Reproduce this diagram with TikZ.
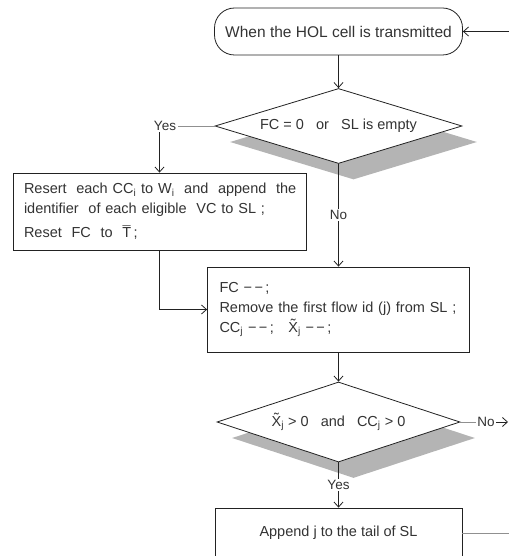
\documentclass[tikz,border=0pt]{standalone}
\usepackage{fontspec}
\setmainfont{Liberation Sans}
\usetikzlibrary{shapes.geometric,shadows,arrows.meta}
\definecolor{textc}{HTML}{333333}
\definecolor{linec}{HTML}{222222}
\definecolor{graylc}{HTML}{909090}
\definecolor{shadowc}{HTML}{B4B4B4}
\newcommand{\sbs}[1]{\textsubscript{#1}}
\newcommand{\markover}[3]{\leavevmode\setbox0\hbox{#2}\rlap{\copy0}\makebox[\wd0]{\raisebox{#3}{#1}}}
\begin{document}
\begin{tikzpicture}[x=1pt,y=-1pt,
  font=\fontsize{14.5}{20}\selectfont, text=textc,
  term/.style={draw=linec, line width=0.8pt, rounded corners=20pt, minimum width=248pt, minimum height=47pt, inner sep=0pt, font=\fontsize{15.5}{18}\selectfont},
  dec/.style={diamond, aspect=3.2, draw=linec, line width=0.8pt, fill=white, inner sep=0pt,
    drop shadow={shadow xshift=15pt, shadow yshift=-16pt, fill=shadowc, opacity=1}},
  stepbox/.style={draw=linec, line width=0.8pt, fill=white, inner sep=0pt},
  lbl/.style={fill=white, inner sep=1.5pt, font=\fontsize{13.5}{15}\selectfont},
  arr/.style={draw=linec, line width=0.8pt, -{Straight Barb[length=5pt,width=9pt]}},
  conn/.style={draw=graylc, line width=0.9pt}]
\useasboundingbox (0,0) rectangle (509,556);

\node[term] (start) at (338.5,31.5) {When the HOL cell is transmitted};
\coordinate (inR) at (509,31.5);

\node[dec, minimum width=247pt, minimum height=75pt] (d1) at (338.5,126) {FC = 0 ~ or ~ SL is empty};
\node[lbl] (yes1) at (165,126) {Yes};

\node[stepbox, minimum width=293pt, minimum height=77pt, text width=271pt, align=left] (b1) at (159.5,211.5)
  {\makebox[271pt][s]{Resert \ each CC\sbs{i} to W\sbs{i} \ and \ append \ the}\\
   identifier \ of each eligible \ VC to SL ;\\[4pt]
   Reset \ FC \ to \ \markover{¯}{T}{0.12em}\,;};

\node[stepbox, minimum width=262pt, minimum height=85pt, text width=238pt, align=left] (b2) at (338.5,309.5)
  {FC −\,−\,;\\
   Remove the first flow id (j) from SL ;\\
   CC\sbs{j} −\,−\,; \ \ \markover{˜}{X}{0.2em}\sbs{j} −\,−\,;};

\node[dec, minimum width=243pt, minimum height=80pt] (d2) at (338.5,422) {\markover{˜}{X}{0.2em}\sbs{j} > 0 ~ and ~ CC\sbs{j} > 0};
\node[lbl] (no2) at (486,422) {No};
\coordinate (noR) at (508,422);

\node[lbl] (yes2) at (338.5,485) {Yes};
\node[stepbox, minimum width=247pt, minimum height=50pt] (b3) at (338.5,533) {Append j to the tail of SL};
\coordinate (loopR) at (509,533);

% connectors
\draw[arr] (inR) -- (start.east);
\draw[arr] (start.south) -- (d1.north);
\draw[conn] (d1.west) -- (yes1.east);
\draw[arr] (b1.north |- yes1.south) -- (b1.north);
\draw[arr] (d1.south) -- node[lbl] (no1) {No} (b2.north);
\draw[arr] (b1.south) |- (b2.west);
\draw[arr] (b2.south) -- (d2.north);
\draw[conn] (d2.east) -- (no2.west);
\draw[arr] (no2.east) -- (noR);
\draw[linec, line width=0.8pt] (d2.south) -- (yes2.north);
\draw[arr] (yes2.south) -- (b3.north);
\draw[conn] (b3.east) -- (loopR);
\end{tikzpicture}
\end{document}
